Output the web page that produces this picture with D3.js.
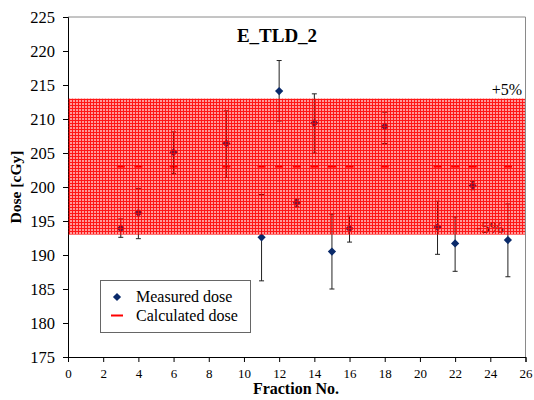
<!DOCTYPE html>
<html>
<head>
<meta charset="utf-8">
<script src="https://cdn.jsdelivr.net/npm/d3@7"></script>
<style>
  html, body { margin: 0; padding: 0; background: #fff; }
  svg { display: block; }
</style>
</head>
<body>
<svg id="chart" width="534" height="400"></svg>
<script>
// ---- data ----
const fractions  = [3, 4, 6, 9, 11, 12, 13, 14, 15, 16, 18, 21, 22, 23, 25];
const measured   = [193.9, 196.2, 205.1, 206.4, 192.6, 214.1, 197.7, 209.4, 190.5, 193.9, 208.9, 194.1, 191.7, 200.2, 192.2];
const errLow     = [192.6, 192.4, 202.0, 201.4, 186.2, 209.7, 197.1, 205.0, 185.0, 191.9, 206.4, 190.1, 187.6, 199.6, 186.8];
const errHigh    = [195.3, 199.8, 208.1, 211.2, 198.9, 218.6, 198.2, 213.7, 196.0, 195.7, 211.0, 197.9, 195.6, 200.8, 197.5];
const calculated = [203, 203, 203, 203, 203, 203, 203, 203, 203, 203, 203, 203, 203, 203, 203];
const bandLimits = [193, 213];   // -5% / +5%
const xTicks = [0, 2, 4, 6, 8, 10, 12, 14, 16, 18, 20, 22, 24, 26];
const yTicks = [175, 180, 185, 190, 195, 200, 205, 210, 215, 220, 225];
const title = "E_TLD_2";
const xTitle = "Fraction No.";
const yTitle = "Dose [cGy]";
const legendLabels = ["Measured dose", "Calculated dose"];

// ---- layout ----
const FONT = '"Liberation Serif"';
const svg = d3.select("#chart");
const L = 68, R = 525.5, T = 17, B = 357;
const x = d3.scaleLinear().domain([0, 26]).range([L, R]);
const y = d3.scaleLinear().domain([175, 225]).range([B, T]);

const data = fractions.map((f, i) => ({ f, m: measured[i], lo: errLow[i], hi: errHigh[i], c: calculated[i] }));

// pattern for the band
const defs = svg.append("defs");
const pat = defs.append("pattern").attr("id", "grid").attr("patternUnits", "userSpaceOnUse")
  .attr("width", 3).attr("height", 3);
pat.append("rect").attr("width", 3).attr("height", 3).attr("fill", "rgba(255,0,0,0.40)");
pat.append("rect").attr("x", 0).attr("y", 0).attr("width", 1).attr("height", 3).attr("fill", "rgba(255,0,0,0.85)");
pat.append("rect").attr("x", 1).attr("y", 0).attr("width", 2).attr("height", 1).attr("fill", "rgba(255,0,0,0.85)");

// plot frame (top/right grey)
svg.append("line").attr("x1", L).attr("x2", R).attr("y1", T).attr("y2", T).attr("stroke", "#8a8a8a").attr("stroke-width", 1);
svg.append("line").attr("x1", R).attr("x2", R).attr("y1", T).attr("y2", B).attr("stroke", "#8a8a8a").attr("stroke-width", 1);

// axes
const yAxis = svg.append("g").attr("transform", `translate(${L},0)`)
  .call(d3.axisLeft(y).tickValues(yTicks).tickSize(5).tickPadding(8).tickFormat(d3.format("d")));
yAxis.attr("font-family", null);
yAxis.selectAll("text").attr("font-size", 16.5).attr("fill", "#000").style("font-family", FONT);
yAxis.selectAll("line, path").attr("stroke", "#000");

const xAxis = svg.append("g").attr("transform", `translate(0,${B})`)
  .call(d3.axisBottom(x).tickValues(xTicks).tickSize(5).tickPadding(7).tickFormat(d3.format("d")));
xAxis.attr("font-family", null);
xAxis.selectAll("text").attr("font-size", 13).attr("fill", "#000").style("font-family", FONT);
xAxis.selectAll("line, path").attr("stroke", "#000");

// calculated dose dashes
svg.append("g").selectAll("line").data(data).join("line")
  .attr("x1", d => x(d.f) - 4).attr("x2", d => x(d.f) + 4)
  .attr("y1", d => y(d.c)).attr("y2", d => y(d.c))
  .attr("stroke", "#ff0000").attr("stroke-width", 2);

// error bars
const eb = svg.append("g").attr("stroke", "#222").attr("stroke-width", 1);
eb.selectAll("line.v").data(data).join("line").attr("class", "v")
  .attr("x1", d => x(d.f)).attr("x2", d => x(d.f))
  .attr("y1", d => y(d.lo)).attr("y2", d => y(d.hi));
eb.selectAll("line.t").data(data).join("line").attr("class", "t")
  .attr("x1", d => x(d.f) - 2.5).attr("x2", d => x(d.f) + 2.5)
  .attr("y1", d => y(d.hi)).attr("y2", d => y(d.hi));
eb.selectAll("line.b").data(data).join("line").attr("class", "b")
  .attr("x1", d => x(d.f) - 2.5).attr("x2", d => x(d.f) + 2.5)
  .attr("y1", d => y(d.lo)).attr("y2", d => y(d.lo));

// measured points (diamonds)
const diamond = d3.symbol().type(d3.symbolSquare).size(34);
svg.append("g").selectAll("path").data(data).join("path")
  .attr("d", diamond)
  .attr("transform", d => `translate(${x(d.f)},${y(d.m)}) rotate(45)`)
  .attr("fill", "#0a2a6a");

// -5% label (under band)
svg.append("text").attr("x", 504).attr("y", y(bandLimits[0]) - 2).attr("text-anchor", "end")
  .attr("font-size", 17).attr("fill", "#000").style("font-family", FONT).text("-5%");

// band
svg.append("rect")
  .attr("x", x(0) + 0.5).attr("width", x(26) - x(0) - 1)
  .attr("y", y(bandLimits[1])).attr("height", y(bandLimits[0]) - y(bandLimits[1]))
  .attr("fill", "url(#grid)");

// +5% label
svg.append("text").attr("x", 522).attr("y", y(bandLimits[1]) - 4).attr("text-anchor", "end")
  .attr("font-size", 16).attr("fill", "#000").style("font-family", FONT).text("+5%");

// title
svg.append("text").attr("x", 277).attr("y", 42).attr("text-anchor", "middle")
  .attr("font-size", 19).attr("font-weight", "bold").style("font-family", FONT).text(title);

// axis titles
svg.append("text").attr("x", 296).attr("y", 394).attr("text-anchor", "middle")
  .attr("font-size", 16).attr("font-weight", "bold").style("font-family", FONT).text(xTitle);
svg.append("text").attr("transform", "translate(21,187) rotate(-90)").attr("text-anchor", "middle")
  .attr("font-size", 15.5).attr("font-weight", "bold").style("font-family", FONT).text(yTitle);

// legend
const lg = svg.append("g");
lg.append("rect").attr("x", 100.5).attr("y", 280.5).attr("width", 150).attr("height", 52)
  .attr("fill", "#fff").attr("stroke", "#666").attr("stroke-width", 1);
lg.append("path").attr("d", diamond).attr("transform", "translate(117,297) rotate(45)").attr("fill", "#0a2a6a");
lg.append("line").attr("x1", 111).attr("x2", 123).attr("y1", 315.5).attr("y2", 315.5)
  .attr("stroke", "#ff0000").attr("stroke-width", 2);
lg.append("text").attr("x", 136).attr("y", 302).attr("font-size", 16).style("font-family", FONT).text(legendLabels[0]);
lg.append("text").attr("x", 136).attr("y", 321).attr("font-size", 16).style("font-family", FONT).text(legendLabels[1]);
</script>
</body>
</html>
